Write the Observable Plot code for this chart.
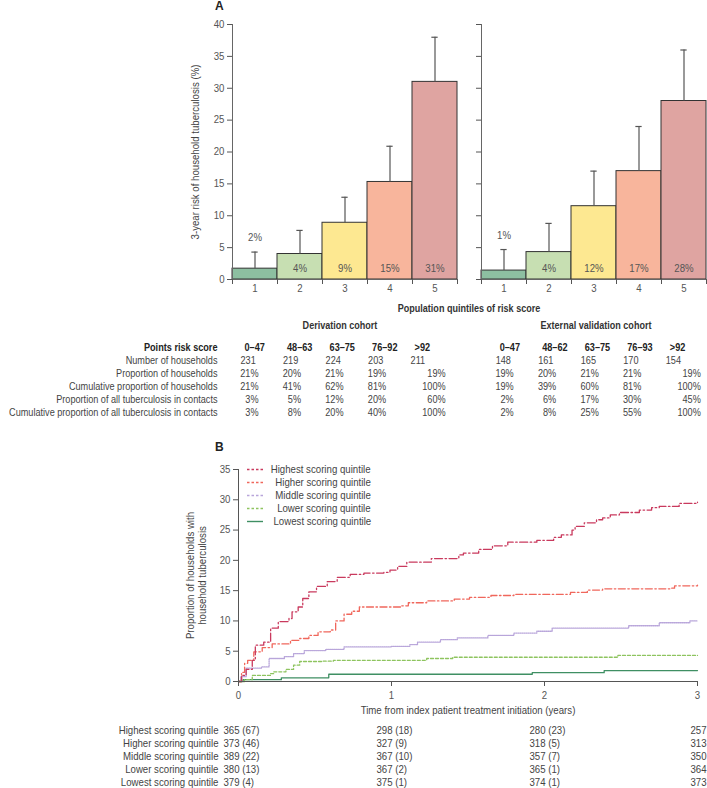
<!DOCTYPE html>
<html><head><meta charset="utf-8">
<script src="https://cdn.jsdelivr.net/npm/d3@7"></script>
<script src="https://cdn.jsdelivr.net/npm/@observablehq/plot@0.6"></script>
<style>
body{margin:0;background:#fff;}
#root{position:relative;width:707px;height:788px;overflow:hidden;
 font-family:"Liberation Sans",Arial,sans-serif;color:#333;}
.lbl{position:absolute;white-space:nowrap;font-size:10.5px;line-height:13px;}
</style></head><body><div id="root"></div>
<script>
// ---------- DATA ----------
const quintiles = [1, 2, 3, 4, 5];
const derivRisk  = [1.7, 4.0, 8.9, 15.3, 31.0];
const derivUpper = [4.3, 7.7, 12.9, 20.9, 38.0];
const derivLabels = ["2%", "4%", "9%", "15%", "31%"];
const validRisk  = [1.4, 4.3, 11.5, 17.0, 28.0];
const validUpper = [4.7, 8.8, 17.0, 24.0, 36.0];
const validLabels = ["1%", "4%", "12%", "17%", "28%"];

const tableRows = ["Points risk score", "Number of households", "Proportion of households",
  "Cumulative proportion of households", "Proportion of all tuberculosis in contacts",
  "Cumulative proportion of all tuberculosis in contacts"];
const derivTable = [
  ["0–47", "48–63", "63–75", "76–92", ">92"],
  ["231", "219", "224", "203", "211"],
  ["21%", "20%", "21%", "19%", "19%"],
  ["21%", "41%", "62%", "81%", "100%"],
  ["3%", "5%", "12%", "20%", "60%"],
  ["3%", "8%", "20%", "40%", "100%"]];
const validTable = [
  ["0–47", "48–62", "63–75", "76–93", ">92"],
  ["148", "161", "165", "170", "154"],
  ["19%", "20%", "21%", "21%", "19%"],
  ["19%", "39%", "60%", "81%", "100%"],
  ["2%", "6%", "17%", "30%", "45%"],
  ["2%", "8%", "25%", "55%", "100%"]];

// cumulative proportion of households with tuberculosis [years, %]
const highest = [[0,0],[0.02,1.0],[0.05,2.0],[0.09,3.5],[0.11,6.0],[0.165,6.5],[0.21,8.8],[0.26,9.9],[0.33,10.4],[0.35,11.5],[0.39,12.3],[0.42,13.7],[0.46,14.8],[0.51,15.7],[0.58,16.5],[0.645,17.2],[0.73,17.7],[0.82,17.9],[0.95,18.0],[0.99,18.4],[1.04,19.0],[1.10,19.7],[1.26,20.3],[1.44,20.9],[1.47,21.2],[1.57,21.8],[1.66,22.4],[1.76,23.0],[1.95,23.3],[2.06,23.8],[2.11,24.2],[2.18,25.0],[2.20,25.6],[2.26,26.2],[2.34,26.7],[2.38,27.0],[2.43,27.5],[2.49,27.9],[2.62,28.3],[2.70,28.7],[2.75,28.9],[2.88,29.4],[3.0,29.6]];
const higher = [[0,0],[0.02,1.5],[0.04,3.0],[0.06,3.5],[0.10,4.9],[0.155,5.6],[0.22,6.2],[0.34,6.8],[0.40,7.1],[0.46,7.6],[0.52,8.2],[0.60,8.5],[0.635,10.0],[0.69,11.1],[0.74,11.6],[0.79,12.3],[1.06,12.5],[1.11,13.0],[1.23,13.3],[1.41,13.6],[1.51,13.9],[1.65,14.2],[1.80,14.4],[2.17,14.7],[2.28,15.1],[2.38,15.3],[2.82,15.4],[2.85,15.8],[3.0,15.9]];
const middle = [[0,0],[0.015,0.8],[0.05,2.2],[0.15,2.4],[0.20,3.8],[0.30,4.1],[0.36,4.6],[0.43,5.1],[0.57,5.3],[0.69,5.7],[1.0,5.8],[1.12,6.1],[1.17,6.5],[1.32,6.9],[1.43,7.2],[1.63,7.6],[1.80,8.0],[1.95,8.3],[2.05,8.8],[2.55,9.2],[2.75,9.7],[2.95,10.0],[3.0,10.0]];
const lower = [[0,0],[0.04,0.3],[0.09,1.0],[0.21,1.3],[0.23,1.6],[0.31,2.0],[0.36,2.7],[0.40,3.3],[0.55,3.35],[0.62,3.5],[1.22,3.5],[1.23,3.8],[1.40,4.0],[2.47,4.0],[2.48,4.3],[3.0,4.3]];
const lowest = [[0,0],[0.03,0.3],[0.28,0.6],[0.59,1.2],[1.92,1.45],[2.39,1.8],[3.0,1.8]];

const riskTimes = [0, 1, 2, 3];
const riskRows = ["Highest scoring quintile", "Higher scoring quintile", "Middle scoring quintile",
  "Lower scoring quintile", "Lowest scoring quintile"];
const atRisk = [
  ["365 (67)", "298 (18)", "280 (23)", "257"],
  ["373 (46)", "327 (9)", "318 (5)", "313"],
  ["389 (22)", "367 (10)", "357 (7)", "350"],
  ["380 (13)", "367 (2)", "365 (1)", "364"],
  ["379 (4)", "375 (1)", "374 (1)", "373"]];

// ---------- STYLE ----------
const FONT = '"Liberation Sans",Arial,sans-serif';
const barColors = ["#8dbfa1", "#c7dfb2", "#fde891", "#f8b59c", "#dfa4a1"];
const seriesStyle = [
  {data: highest, color: "#c93a5e", dash: "8,2.5,1.5,2.5"},
  {data: higher,  color: "#f0675c", dash: "7,2.5,1.5,2.5"},
  {data: middle,  color: "#b8a5da", dash: "1,1"},
  {data: lower,   color: "#8ec45f", dash: "3,2"},
  {data: lowest,  color: "#3f8f63", dash: null}
];

const root = document.getElementById("root");
// narrow-typeface look: compress glyphs horizontally around each text's own anchor
function condense(el, f) {
  el.querySelectorAll("text").forEach(t => {
    const tr = t.getAttribute("transform");
    if (tr) t.setAttribute("transform", tr + ` scale(${f},1)`);
    else {
      const x = +(t.getAttribute("x") || 0), y = +(t.getAttribute("y") || 0);
      t.removeAttribute("x"); t.removeAttribute("y");
      t.setAttribute("transform", `translate(${x},${y}) scale(${f},1)`);
    }
  });
}
function place(node, left, top, f) {
  node.style.position = "absolute"; node.style.left = left + "px"; node.style.top = top + "px";
  root.appendChild(node);
  if (node.tagName && node.tagName.toLowerCase() === "svg") condense(node, f || 0.92);
  return node;
}
function label(text, left, top, css) {
  const d = document.createElement("div"); d.className = "lbl"; d.textContent = text;
  Object.assign(d.style, css || {});
  d.style.transformOrigin = "center";
  return place(d, left, top);
}
const baseStyle = {fontFamily: FONT, fontSize: "10.5px", color: "#555", background: "transparent", overflow: "visible"};

// ---------- PANEL A ----------
function panelA(risk, upper, labels, o) {
  const data = quintiles.map((q, i) => ({q, risk: risk[i], upper: upper[i], label: labels[i]}));
  const bounds = d3.range(0.5, 5.6, 1);
  return Plot.plot({
    width: o.width, height: 300, marginLeft: o.ml, marginRight: o.mr, marginTop: 24, marginBottom: 21,
    x: {domain: [0.5, 5.5]}, y: {domain: [0, 40]},
    color: {type: "ordinal", domain: quintiles, range: barColors},
    style: baseStyle,
    marks: [
      Plot.rectY(data, {x1: d => d.q - 0.5, x2: d => d.q + 0.5, y: "risk", fill: "q", stroke: "#333", strokeWidth: 1}),
      Plot.ruleX(data, {x: "q", y1: "risk", y2: "upper", stroke: "#555", strokeWidth: 1.2}),
      Plot.ruleY(data, {y: "upper", x1: d => d.q - 0.07, x2: d => d.q + 0.07, stroke: "#555", strokeWidth: 1.2}),
      Plot.text(data.filter(d => d.q === 1), {x: "q", y: "upper", dy: -14, text: "label", fill: "#555"}),
      Plot.text(data.filter(d => d.q !== 1), {x: "q", y: 0, dy: -11, text: "label", fill: "#555"}),
      Plot.ruleX([0.5], {stroke: "#666"}),
      Plot.ruleY([0], {stroke: "#666"}),
      Plot.axisY({ticks: d3.range(0, 41, 5), tickSize: 5, tickPadding: 3, label: null,
        tickFormat: o.labels ? (d => String(d)) : (() => "")}),
      Plot.axisX({ticks: bounds, tickSize: 5, tickFormat: () => "", label: null}),
      Plot.axisX({ticks: quintiles, tickSize: 0, tickPadding: 5, tickFormat: d => String(d), label: null}),
      o.labels ? Plot.text(["3-year risk of household tuberculosis (%)"],
        {frameAnchor: "left", rotate: -90, dx: -37, textAnchor: "middle", fill: "#444"}) : null
    ]
  });
}
place(panelA(derivRisk, derivUpper, derivLabels, {width: 460, ml: 232, mr: 3, labels: true}), 0, 0);
place(panelA(validRisk, validUpper, validLabels, {width: 247, ml: 21, mr: 1, labels: false}), 460, 0);

const headCss = {fontWeight: "700", fontSize: "12px", color: "#222"};
label("A", 215, 0, headCss);
const subCss = {fontWeight: "700", color: "#333", transform: `translateX(-50%) scaleX(0.86)`};
label("Population quintiles of risk score", 469, 302, subCss);
label("Derivation cohort", 340, 319, subCss);
label("External validation cohort", 596, 319, subCss);

// ---------- TABLE ----------
const cells = [];
[[derivTable, 0], [validTable, 6]].forEach(([tbl, off]) =>
  tbl.forEach((row, r) => row.forEach((text, c) => cells.push({x: c + off, r, c, text}))));
place(Plot.plot({
  width: 707, height: 85, marginLeft: 244, marginRight: 37.7, marginTop: 12, marginBottom: 8,
  x: {domain: [0, 10], axis: null}, y: {type: "point", domain: d3.range(6), padding: 0, axis: null},
  style: {...baseStyle, color: "#444"},
  marks: [
    Plot.text(tableRows.slice(0, 1), {x: () => 0, y: () => 0, dx: -27, textAnchor: "end", fontWeight: 700, fill: "#222"}),
    Plot.text(tableRows.slice(1), {x: () => 0, y: (d, i) => i + 1, dx: -27, textAnchor: "end"}),
    Plot.text(cells.filter(d => d.r === 0), {x: "x", y: "r", text: "text", textAnchor: "start", fontWeight: 700, fill: "#222"}),
    Plot.text(cells.filter(d => d.r === 1), {x: "x", y: "r", text: "text", textAnchor: "start", dx: -4}),
    Plot.text(cells.filter(d => d.r >= 2 && d.c < 4), {x: "x", y: "r", text: "text", textAnchor: "end", dx: 14}),
    Plot.text(cells.filter(d => d.r >= 2 && d.c === 4), {x: "x", y: "r", text: "text", textAnchor: "end", dx: 31})
  ]
}), 0, 335, 0.87);

// ---------- PANEL B ----------
label("B", 215, 441, headCss);
place(Plot.plot({
  width: 707, height: 280, marginLeft: 238, marginRight: 10, marginTop: 29, marginBottom: 39,
  x: {domain: [0, 3]}, y: {domain: [0, 35]},
  style: baseStyle,
  marks: [
    ...seriesStyle.slice().reverse().map(s => Plot.line(s.data, {x: d => d[0], y: d => d[1], curve: "step-after",
      stroke: s.color, strokeWidth: 1.3, strokeDasharray: s.dash})),
    Plot.ruleX([0], {stroke: "#555"}),
    Plot.ruleY([0], {stroke: "#555"}),
    Plot.axisY({ticks: d3.range(0, 36, 5), tickSize: 5, tickPadding: 3, tickFormat: d => String(d), label: null}),
    Plot.axisX({ticks: riskTimes, tickSize: 5, tickPadding: 5, tickFormat: d => String(d), label: null}),
    Plot.text(["Proportion of households with\nhousehold tuberculosis"], {frameAnchor: "left", rotate: -90, dx: -42,
      textAnchor: "middle", fill: "#444", lineHeight: 1.15}),
    Plot.text(["Time from index patient treatment initiation (years)"], {frameAnchor: "bottom", dy: 32, fill: "#444"})
  ]
}), 0, 440);

// legend
const leg = document.createElement("div");
leg.style.width = "125px"; leg.style.height = "65px";
riskRows.forEach((name, i) => {
  const s = seriesStyle[i];
  const row = document.createElement("div");
  Object.assign(row.style, {position: "absolute", left: "0px", top: (i * 13) + "px", width: "125px", height: "13px"});
  row.innerHTML = `<svg width="18" height="13" style="position:absolute;left:0;top:0"><line x1="1" x2="17" y1="6.5" y2="6.5" stroke="${s.color}" stroke-width="1.4" ${s.dash ? 'stroke-dasharray="2.5,2"' : ''}/></svg>`;
  const t = document.createElement("div"); t.className = "lbl"; t.textContent = name;
  Object.assign(t.style, {right: "0px", top: "0px", color: "#444", transform: `scaleX(0.92)`, transformOrigin: "right center"});
  row.appendChild(t); leg.appendChild(row);
});
place(leg, 246, 463);

// at-risk table
place(Plot.plot({
  width: 707, height: 66, marginLeft: 238, marginRight: 10, marginTop: 8, marginBottom: 6,
  x: {domain: [0, 3], axis: null}, y: {type: "point", domain: riskRows, padding: 0, axis: null},
  style: {...baseStyle, color: "#444"},
  marks: [
    Plot.text(riskRows, {x: () => 0, y: d => d, dx: -20, textAnchor: "end"}),
    ...riskTimes.map((t, j) => Plot.text(riskRows, {x: () => t, y: d => d, text: (d, i) => atRisk[i][j],
      textAnchor: "start", dx: j < 3 ? -15 : -7}))
  ]
}), 0, 722, 0.92);
</script></body></html>
